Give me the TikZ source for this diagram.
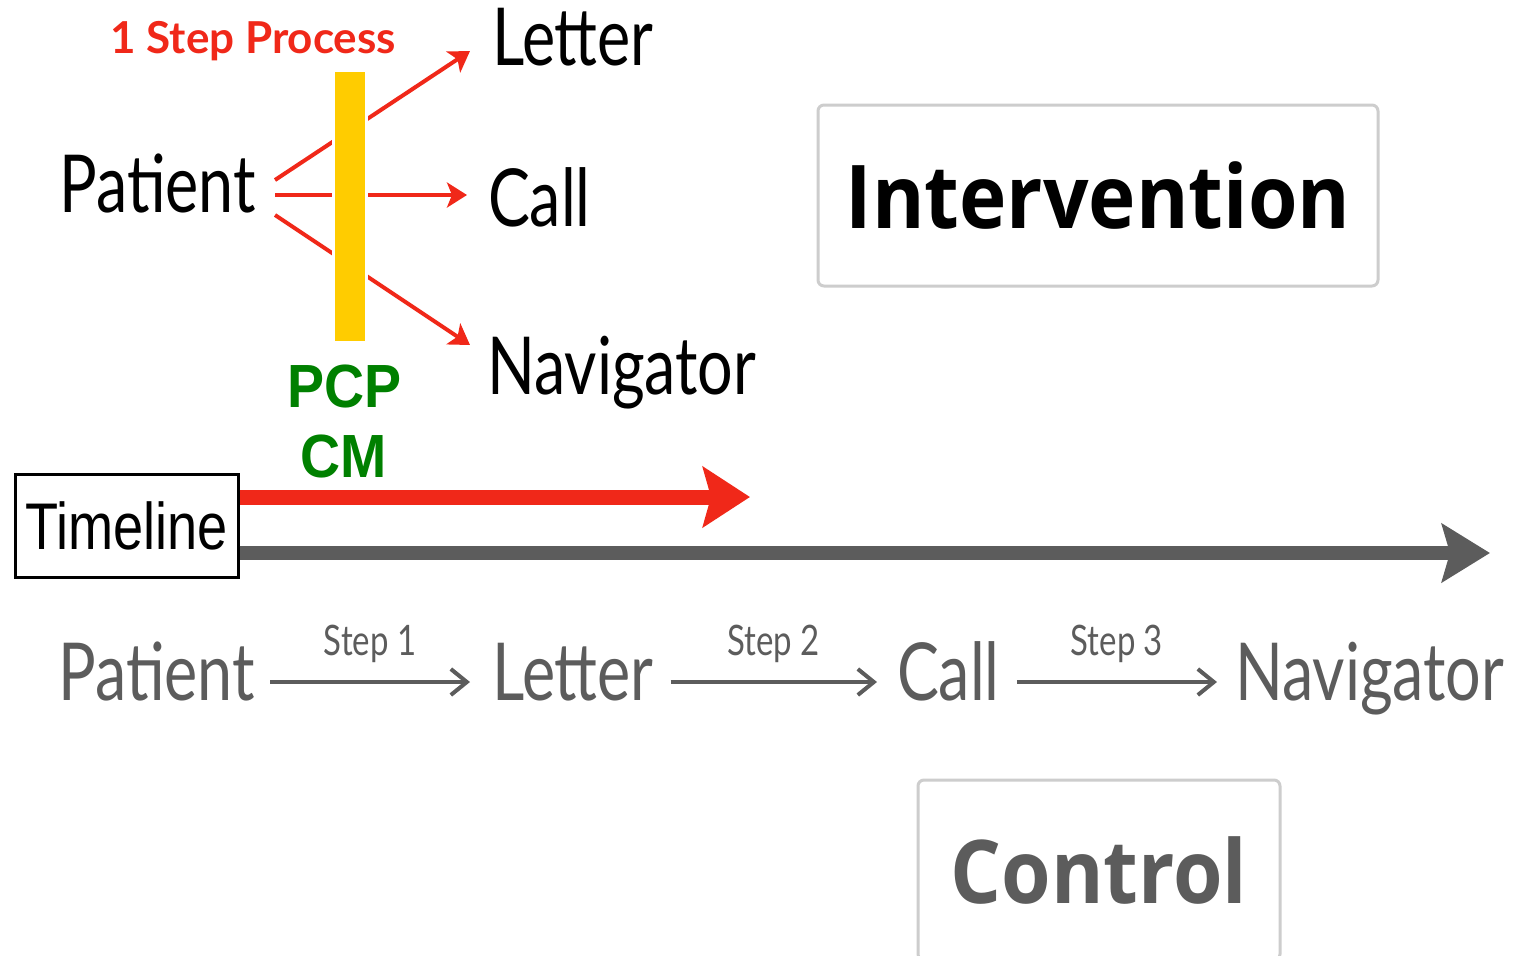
\documentclass[tikz,border=0pt]{standalone}
\usepackage{fontspec}
\usetikzlibrary{arrows.meta}

\newfontfamily\gill{Lato}[FakeStretch=0.785]
\newfontfamily\gilltitle{Lato}[FakeStretch=1.0]
\newfontfamily\heavy{Open Sans}[FakeStretch=0.91]
\newfontfamily\narrowsans{Liberation Sans}[FakeStretch=0.82]
\newfontfamily\tagsans{Liberation Sans}[FakeStretch=0.91]

\definecolor{alertred}{RGB}{240,40,25}
\definecolor{baryellow}{RGB}{255,204,0}
\definecolor{tagline}{RGB}{0,128,0}
\definecolor{flowgray}{RGB}{92,92,92}
\definecolor{framegray}{RGB}{205,205,205}

\begin{document}
\begin{tikzpicture}[x=0.5pt, y=-0.5pt,
  word/.style={inner sep=0pt, outer sep=0pt, font=\gill\fontsize{40}{48}\selectfont},
  gword/.style={word, text=flowgray},
  steplbl/.style={inner sep=0pt, outer sep=0pt, text=flowgray,
    font=\gill\fontsize{21}{25}\selectfont, midway, anchor=base, yshift=13.5pt},
  steparr/.style={draw=flowgray, line width=1.8pt,
    -{Straight Barb[length=8pt, width=13pt, line width=2pt]}},
  branch/.style={draw=alertred, line width=2pt,
    -{Stealth[length=10pt, width=12.5pt, inset=2.5pt]}},
  bigbox/.style={draw=framegray, line width=1.5pt, rounded corners=3pt,
    inner sep=0pt, font=\heavy\bfseries\fontsize{44}{52}\selectfont},
  tag/.style={inner sep=0pt, outer sep=0pt, text=tagline,
    font=\tagsans\bfseries\fontsize{30.5}{36}\selectfont}
]
\useasboundingbox (0,0) rectangle (1515,955);
\clip (0,0) rectangle (1515,955);

% ---- one-step process: patient fans out to three outreach channels
\node[inner sep=0pt, anchor=base west, text=alertred,
      font=\gilltitle\bfseries\fontsize{22}{26}\selectfont]
      (title) at (110,53) {1 Step Process};

\node[word, anchor=base east] (patT)  at (256,212) {Patient};
\node[word, anchor=base west] (letT)  at (492,65)  {Letter};
\node[word, anchor=base west] (callT) at (488,226) {Call};
\node[word, anchor=base west] (navT)  at (487,394) {Navigator};

\draw[branch] ([shift={(19,-32)}]patT.base east) -- ([shift={(-22,-14)}]letT.base west);
\draw[branch] ([shift={(19,-17)}]patT.base east) -- ([shift={(-21,-31)}]callT.base west);
\draw[branch] ([shift={(19,3)}]patT.base east)   -- ([shift={(-17,-49)}]navT.base west);

% yellow barrier with a thin white halo
\node[fill=baryellow, preaction={draw=white, line width=3pt},
      minimum width=15pt, minimum height=134.5pt, inner sep=0pt]
      (bar) at (350,206.5) {};

\node[tag, anchor=base] (pcp) at (344.5,407) {PCP};
\node[tag, anchor=base] (cm)  at (343.5,477) {CM};

% ---- timeline
\node[draw=black, line width=1.5pt, minimum width=111.5pt, minimum height=51.5pt,
      inner sep=0pt, font=\narrowsans\fontsize{33}{40}\selectfont]
      (tl) at (126.5,525.5) {Timeline};

\coordinate (redend)  at (750,497);
\coordinate (grayend) at (1490,553);
\draw[draw=alertred, line width=7.5pt,
      -{Stealth[length=23.5pt, width=30pt, inset=4pt]}]
      (tl.east |- redend) -- (redend);
\draw[draw=flowgray, line width=7pt,
      -{Stealth[length=24pt, width=29pt, inset=4pt]}]
      (tl.east |- grayend) -- (grayend);

% ---- three-step sequence
\node[gword, anchor=base east] (patB)  at (255,700)  {Patient};
\node[gword, anchor=base west] (letB)  at (492,700)  {Letter};
\node[gword, anchor=base west] (callB) at (897,700)  {Call};
\node[gword, anchor=base west] (navB)  at (1235,700) {Navigator};

\draw[steparr] ([shift={(15,-18)}]patB.base east)
  -- node[steplbl] {Step 1} ([shift={(-22,-18)}]letB.base west);
\draw[steparr] ([shift={(17,-18)}]letB.base east)
  -- node[steplbl] {Step 2} ([shift={(-20,-18)}]callB.base west);
\draw[steparr] ([shift={(17,-18)}]callB.base east)
  -- node[steplbl] {Step 3} ([shift={(-18,-18)}]navB.base west);

% ---- study arms
\node[bigbox, minimum width=280pt, minimum height=90.5pt, text=black]
      (intv) at (1098,195.5) {Intervention};
\node[bigbox, minimum width=181pt, minimum height=90pt, text=flowgray]
      (ctrl) at (1099,870) {Control};
\end{tikzpicture}
\end{document}
